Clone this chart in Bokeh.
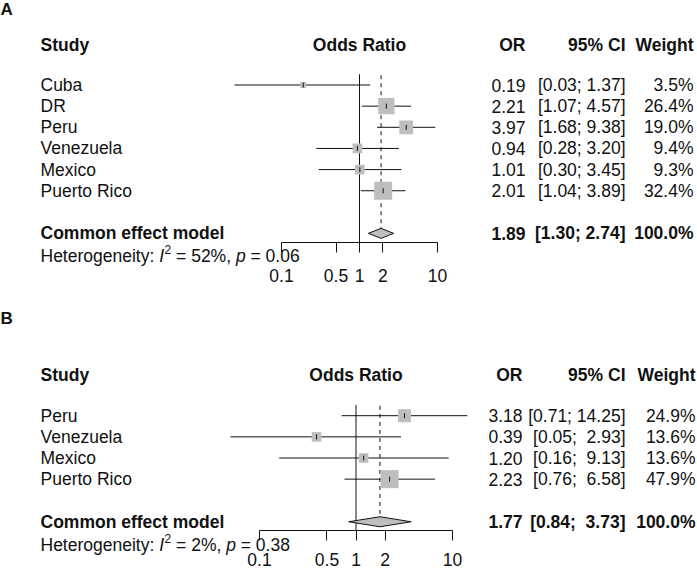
import math
from bokeh.plotting import figure
from bokeh.models import ColumnDataSource, Range1d, LogScale, LogAxis, FixedTicker, CustomJSTickFormatter
from bokeh.core.properties import value
from bokeh.embed import file_html
from bokeh.resources import INLINE

# ---------------- data ----------------
studies_a = ["Cuba", "DR", "Peru", "Venezuela", "Mexico", "Puerto Rico"]
or_a = [0.19, 2.21, 3.97, 0.94, 1.01, 2.01]
lo_a = [0.025, 1.07, 1.68, 0.28, 0.30, 1.04]
hi_a = [1.37, 4.57, 9.38, 3.20, 3.45, 3.89]
w_a = [3.5, 26.4, 19.0, 9.4, 9.3, 32.4]
pooled_a = [1.89, 1.30, 2.74]      # estimate, lower, upper
i2_a, p_a = "52%", "0.06"

studies_b = ["Peru", "Venezuela", "Mexico", "Puerto Rico"]
or_b = [3.18, 0.39, 1.20, 2.23]
lo_b = [0.71, 0.05, 0.16, 0.76]
hi_b = [14.25, 2.93, 9.13, 6.58]
w_b = [24.9, 13.6, 13.6, 47.9]
pooled_b = [1.77, 0.84, 3.73]
i2_b, p_b = "2%", "0.38"

tick_values = [0.1, 0.5, 1, 2, 10]

# ---------------- layout ----------------
W, H = 697, 572
FONT = value("Liberation Sans")
FS = "17.5px"
INK = "#111111"
NB = "\u00a0"

X_STUDY = 40
X_CI = 625

p = figure(width=W, height=H, x_range=Range1d(0, W), y_range=Range1d(H, 0),
           output_backend="svg", toolbar_location=None,
           x_axis_location=None, y_axis_location=None,
           min_border=0, min_border_left=0, min_border_right=0,
           min_border_top=0, min_border_bottom=0,
           outline_line_color=None, background_fill_color="white",
           border_fill_color="white")
p.grid.visible = False


def log_range(px01, px10):
    dec = (px10 - px01) / 2.0
    return Range1d(10 ** (-1 - px01 / dec), 10 ** (1 + (W - px10) / dec))


p.extra_x_ranges = {"A": log_range(281, 437), "B": log_range(259, 452)}
p.extra_x_scales = {"A": LogScale(), "B": LogScale()}

WID = {"H": 722, "e": 556, "t": 278, "r": 333, "o": 556, "g": 556, "n": 556, "i": 222,
       "y": 500, ":": 278, " ": 278, NB: 278, "=": 584, "%": 889, ",": 278, ".": 278,
       "I": 278, "p": 556}


def text_w(s, size):
    return sum(WID.get(c, 556) for c in s) / 1000.0 * size


def txt(x, y, s, align="left", bold=False, italic=False, size=FS, rng="default"):
    style = "bold" if bold else ("italic" if italic else "normal")
    src = ColumnDataSource(dict(x=list(x), y=list(y), t=list(s)))
    p.text(x="x", y="y", text="t", source=src, text_align=align, text_baseline="middle",
           text_font=FONT, text_font_size=value(size), text_font_style=style,
           text_color=INK, x_range_name=rng)


def pad(vals):
    s = [f"{v:.2f}" for v in vals]
    m = max(len(v) for v in s)
    return [NB * (m - len(v)) + v for v in s]


def panel(name, letter, letter_y, header_y, studies, ors, los, his, ws, pooled, i2, pval,
          or_right, w_right, standoff):
    n = len(studies)
    rows = [header_y + 40.5 + i * 21.15 for i in range(n)]
    y_pool = rows[-1] + 42.6
    y_het = y_pool + 22.9
    y_axis = y_pool + 9.2
    y_top = rows[0] - 10.8

    # labels & headers
    txt([0], [letter_y], [letter], bold=True, size="17px")
    txt([X_STUDY], [header_y], ["Study"], bold=True)
    txt([1], [header_y], ["Odds Ratio"], align="center", bold=True, rng=name)
    txt([or_right], [header_y], ["OR"], align="right", bold=True)
    txt([X_CI], [header_y], ["95%" + NB + "CI"], align="right", bold=True)
    txt([w_right], [header_y], ["Weight"], align="right", bold=True)

    # study rows
    los_s = pad(list(los) + [pooled[1]])
    his_s = pad(list(his) + [pooled[2]])
    ci_s = [f"[{a};{NB}{b}]" for a, b in zip(los_s, his_s)]
    txt([X_STUDY] * n, rows, studies)
    txt([or_right] * n, rows, [f"{v:.2f}" for v in ors], align="right")
    txt([X_CI] * n, rows, ci_s[:n], align="right")
    txt([w_right] * n, rows, [f"{v:.1f}%" for v in ws], align="right")

    # pooled row
    txt([X_STUDY], [y_pool], ["Common effect model"], bold=True)
    txt([or_right], [y_pool], [f"{pooled[0]:.2f}"], align="right", bold=True)
    txt([X_CI], [y_pool], [ci_s[n]], align="right", bold=True)
    txt([w_right], [y_pool], [f"{sum(ws):.1f}%"], align="right", bold=True)

    # heterogeneity line
    fs = 17.5
    x = X_STUDY
    pieces = [("Heterogeneity:" + NB, "n"), ("I", "i"), ("2", "s"),
              (NB + "=" + NB + i2 + "," + NB, "n"), ("p", "i"), (NB + "=" + NB + pval, "n")]
    for s, kind in pieces:
        if kind == "s":
            txt([x + 0.5], [y_het - 6.5], [s], size="12px")
            x += text_w(s, 12) + 0.5
        else:
            txt([x], [y_het], [s], italic=(kind == "i"), size=FS)
            x += text_w(s, fs)

    # forest: reference line at 1 and dashed pooled line
    p.segment(x0=[1], x1=[1], y0=[y_top], y1=[y_axis], line_color=INK, line_width=1, x_range_name=name)
    p.segment(x0=[pooled[0]], x1=[pooled[0]], y0=[y_top + 1], y1=[y_pool - 5],
              line_color=INK, line_width=1, line_dash="4 4", x_range_name=name)

    # CI lines, squares, estimate ticks
    p.segment(x0=list(los), x1=list(his), y0=rows, y1=rows, line_color=INK, line_width=1, x_range_name=name)
    wmax = max(ws)
    sizes = [18 * math.sqrt(w / wmax) for w in ws]
    p.scatter(x=list(ors), y=rows, size=sizes, marker="square", fill_color="#BEBEBE",
              line_color=None, x_range_name=name)
    p.segment(x0=list(ors), x1=list(ors), y0=[r - 2.5 for r in rows], y1=[r + 2.5 for r in rows],
              line_color=INK, line_width=1, x_range_name=name)

    # diamond
    est, lo, hi = pooled
    p.patch(x=[lo, est, hi, est], y=[y_pool, y_pool - 5, y_pool, y_pool + 5],
            fill_color="#BEBEBE", line_color=INK, line_width=1, x_range_name=name)

    # axis
    ax = LogAxis(x_range_name=name, ticker=FixedTicker(ticks=tick_values, minor_ticks=[]),
                 formatter=CustomJSTickFormatter(code="return tick.toString()"),
                 fixed_location=y_axis, bounds=(0.1, 10))
    ax.axis_line_color = INK
    ax.major_tick_line_color = INK
    ax.major_tick_out = 10
    ax.major_tick_in = 0
    ax.minor_tick_out = 0
    ax.minor_tick_in = 0
    ax.major_label_text_font = "Liberation Sans"
    ax.major_label_text_font_size = FS
    ax.major_label_text_color = INK
    ax.major_label_standoff = standoff
    p.add_layout(ax, "below")


panel("A", "A", 8.7, 44, studies_a, or_a, lo_a, hi_a, w_a, pooled_a, i2_a, p_a, 525, 693, 16)
panel("B", "B", 317.7, 374.7, studies_b, or_b, lo_b, hi_b, w_b, pooled_b, i2_b, p_b, 522, 695, 12)

open("out.html", "w").write(file_html(p, INLINE))
